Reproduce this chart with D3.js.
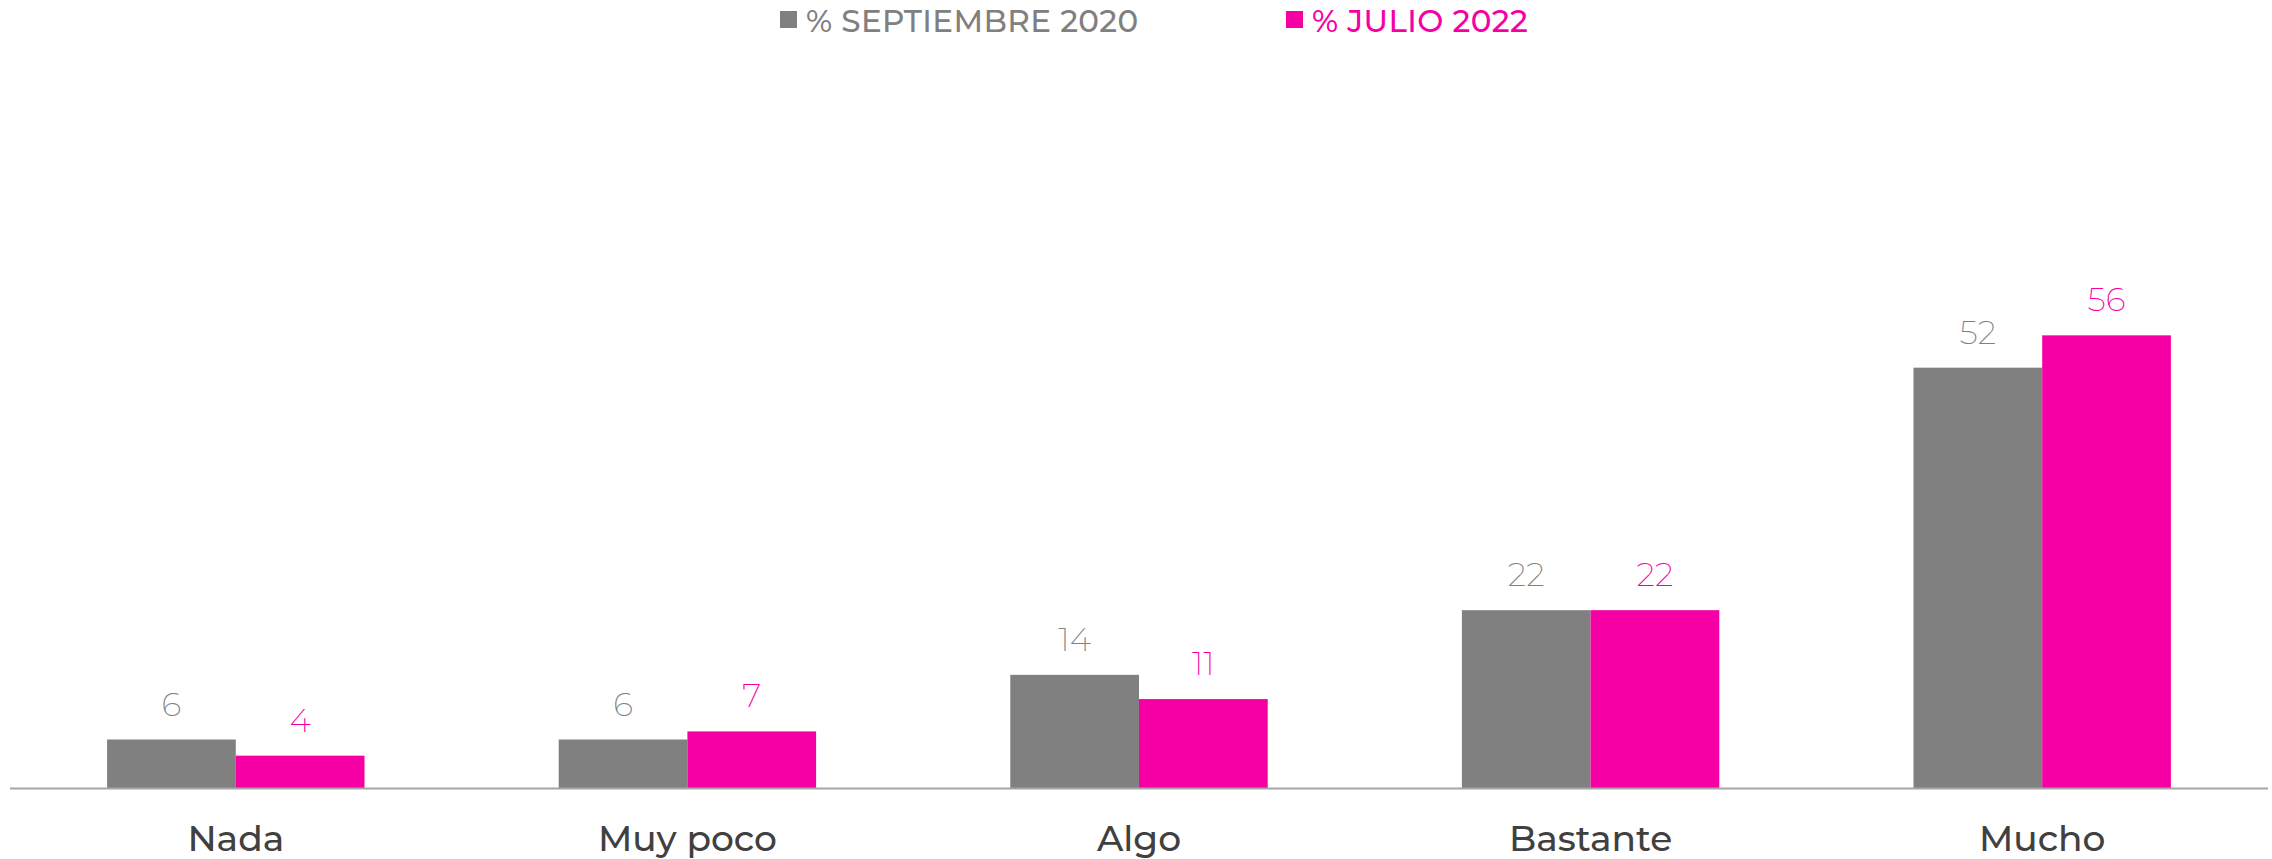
<!DOCTYPE html>
<html>
<head>
<meta charset="utf-8">
<script src="https://cdn.jsdelivr.net/npm/d3@7"></script>
<style>
  html, body { margin: 0; padding: 0; background: #fff; }
  svg { display: block; }
</style>
</head>
<body>
<div id="chart"></div>
<script>
// Data
const categories = ['Nada', 'Muy poco', 'Algo', 'Bastante', 'Mucho'];
const seriesNames = ['% SEPTIEMBRE 2020', '% JULIO 2022'];
const sept2020 = [6, 6, 14, 22, 52];
const julio2022 = [4, 7, 11, 22, 56];

const colors = ['#808080', '#f600a6'];
const labelColors = ['#808080', '#f600a6'];

const width = 2272;
const height = 859;
const font = 'Montserrat, "Open Sans", sans-serif';

const svg = d3.select('#chart')
  .append('svg')
  .attr('width', width)
  .attr('height', height);

// Scales
const x = d3.scaleBand()
  .domain(categories)
  .range([10, 2268])
  .paddingInner(0.43)
  .paddingOuter(0.215);

const xSub = d3.scaleBand()
  .domain([0, 1])
  .range([0, x.bandwidth()]);

const y = d3.scaleLinear()
  .domain([0, 60])
  .range([788, 303]);

const rows = categories.map((c, i) => ({ cat: c, values: [sept2020[i], julio2022[i]] }));

const groups = svg.selectAll('g.cat')
  .data(rows)
  .enter()
  .append('g')
  .attr('class', 'cat')
  .attr('transform', d => `translate(${x(d.cat)},0)`);

// Bars
groups.selectAll('rect')
  .data(d => d.values.map((v, k) => ({ v, k })))
  .enter()
  .append('rect')
  .attr('x', d => xSub(d.k))
  .attr('y', d => y(d.v))
  .attr('width', xSub.bandwidth())
  .attr('height', d => y(0) - y(d.v))
  .attr('fill', d => colors[d.k]);

// Value labels
groups.selectAll('text.val')
  .data(d => d.values.map((v, k) => ({ v, k })))
  .enter()
  .append('text')
  .attr('class', 'val')
  .attr('x', d => xSub(d.k) + xSub.bandwidth() / 2)
  .attr('y', d => y(d.v) - 24)
  .attr('text-anchor', 'middle')
  .style('font-family', font)
  .style('font-weight', 200)
  .style('font-size', '33px')
  .style('fill', d => labelColors[d.k])
  .text(d => d.v);

// Baseline
svg.append('line')
  .attr('x1', 10)
  .attr('x2', 2268)
  .attr('y1', y(0) + 0.5)
  .attr('y2', y(0) + 0.5)
  .attr('stroke', '#a6a6a6')
  .attr('stroke-width', 2);

// Category labels
const xAxis = svg.append('g')
  .attr('transform', `translate(0,${y(0)})`)
  .call(d3.axisBottom(x).tickSize(0).tickPadding(0));
xAxis.select('.domain').remove();
xAxis.selectAll('text')
  .attr('dy', null)
  .attr('y', 63)
  .style('font-family', font)
  .style('font-size', '36px')
  .style('font-weight', 500)
  .style('fill', '#404040');

// Legend
const legendX = [780, 1286];
const legend = svg.selectAll('g.legend')
  .data(seriesNames)
  .enter()
  .append('g')
  .attr('class', 'legend')
  .attr('transform', (d, i) => `translate(${legendX[i]},0)`);

legend.append('rect')
  .attr('x', 0)
  .attr('y', 11)
  .attr('width', 17)
  .attr('height', 17)
  .attr('fill', (d, i) => colors[i]);

legend.append('text')
  .attr('x', 26)
  .attr('y', 32)
  .style('font-family', font)
  .style('font-size', '31px')
  .style('letter-spacing', '0.4px')
  .style('font-weight', 500)
  .style('fill', (d, i) => labelColors[i])
  .text(d => d);
</script>
</body>
</html>
